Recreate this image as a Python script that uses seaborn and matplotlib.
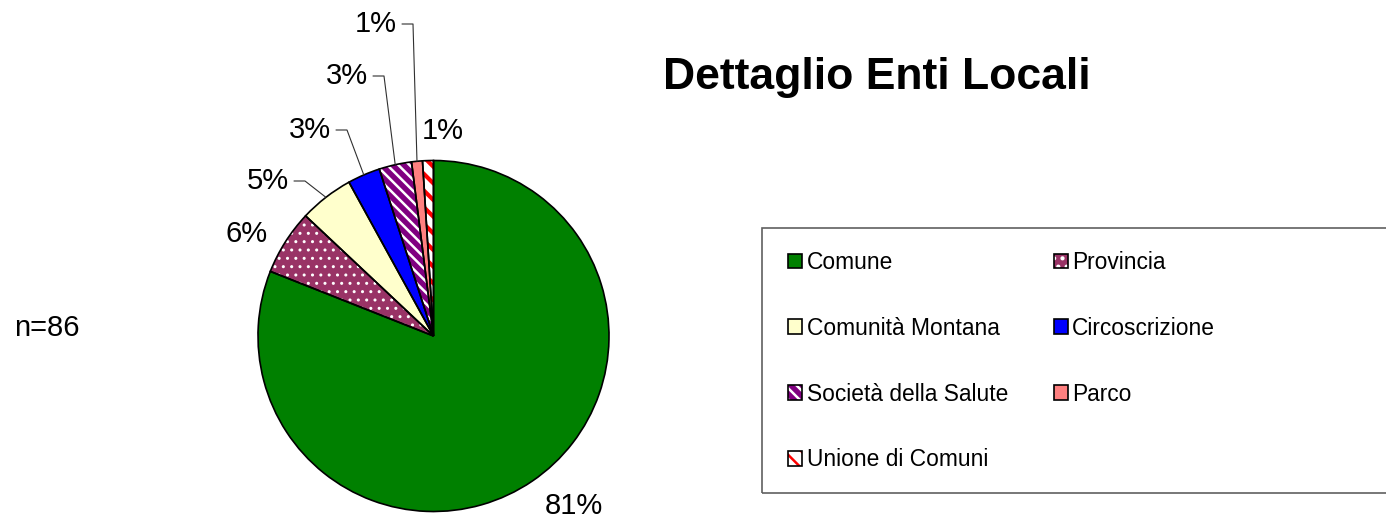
import matplotlib
matplotlib.use('Agg')
import matplotlib.pyplot as plt
import numpy as np
import seaborn as sns
from matplotlib.patches import Rectangle

sns.set_theme(style='white')
plt.rcParams['font.family'] = ['Liberation Sans', 'DejaVu Sans']
plt.rcParams['text.color'] = 'black'
plt.rcParams['hatch.linewidth'] = 1.8

# Dati
categorie = ['Comune', 'Provincia', 'Comunità Montana', 'Circoscrizione',
             'Società della Salute', 'Parco', 'Unione di Comuni']
percentuali = [81, 6, 5, 3, 3, 1, 1]
n_tot = 86

# Stile delle fette
colori = ['#008000', '#993366', '#FFFFCC', '#0000FF', '#800080', '#FF8080', '#FFFFFF']
tratteggi = [None, '..', None, None, '\\\\\\', None, '\\\\']
colore_tratteggio = ['#008000', '#FFFFFF', '#FFFFCC', '#0000FF', '#FFFFFF', '#FF8080', '#FF0000']

W, H = 1386, 520
fig = plt.figure(figsize=(W / 100, H / 100), dpi=100)
ax = fig.add_axes([0, 0, 1, 1])

centro = (433.5, H - 336)
raggio = 175.5

# riempimento + tratteggio
fette, _ = ax.pie(percentuali, colors=colori, startangle=90, counterclock=False,
                  center=centro, radius=raggio, wedgeprops=dict(linewidth=0))
for w, h, c in zip(fette, tratteggi, colore_tratteggio):
    w.set_edgecolor(c)
    if h:
        w.set_hatch(h)
if hasattr(fette[6], 'set_hatch_linewidth'):
    fette[6].set_hatch_linewidth(3)
    fette[1].set_hatch_linewidth(1)

# contorni neri
bordi, _ = ax.pie(percentuali, colors=['none'] * len(percentuali), startangle=90,
                  counterclock=False, center=centro, radius=raggio,
                  wedgeprops=dict(linewidth=1.2, edgecolor='black', fill=False))

ax.set_xlim(0, W)
ax.set_ylim(0, H)
ax.set_aspect('auto')
ax.axis('off')

# etichette percentuali (posizioni in pixel, y dall'alto)
pos_etichette = [(574, 506), (247, 234), (268, 181), (310, 130),
                 (347, 76), (376, 24), (443, 131)]
con_linea = [False, False, True, True, True, True, False]

for w, p, (x, y), linea in zip(bordi, percentuali, pos_etichette, con_linea):
    ax.text(x, H - y, f'{p}%', fontsize=21, ha='center', va='center', color='black')
    if linea:
        ang = np.deg2rad((w.theta1 + w.theta2) / 2)
        ex = centro[0] + raggio * np.cos(ang)
        ey = centro[1] + raggio * np.sin(ang)
        ax.plot([x + 26, x + 37, ex], [H - y, H - y, ey], color='#303030', lw=0.8)

# titolo e n
ax.text(877, H - 78, 'Dettaglio Enti Locali', fontsize=32, fontweight='bold',
        ha='center', va='center', color='black')
ax.text(14, H - 328, f'n={n_tot}', fontsize=21, ha='left', va='center', color='black')

# cornice legenda
ax.add_patch(Rectangle((762, H - 493), 700, 265, fill=False, edgecolor='#606060',
                       lw=1.2, clip_on=False))

ordine = [0, 2, 4, 6, 1, 3, 5]
maniglie = [(fette[i], bordi[i]) for i in ordine]
etichette = [categorie[i] for i in ordine]
leg = ax.legend(maniglie, etichette, ncol=2, frameon=False, loc='upper left',
                bbox_to_anchor=(788, H - 251), bbox_transform=ax.transData,
                borderpad=0, borderaxespad=0, fontsize=16.4, labelspacing=1.88,
                columnspacing=2.0, handlelength=0.62, handleheight=0.62,
                handletextpad=0.2)
for t in leg.get_texts():
    t.set_color('black')

fig.savefig('out.png', dpi=100)
